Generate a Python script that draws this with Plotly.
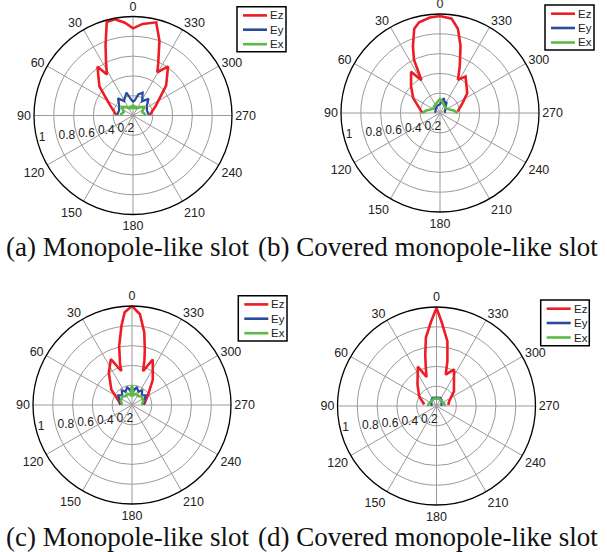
import plotly.graph_objects as go

# ---------------- data (theta in degrees, 0 = up, counter-clockwise) ----------------
# (a) Monopole-like slot
a_ez_theta = [-88, -67, -48, -35.5, -29.5, -26, -19.5, -14, -6, 0, 5, 10.7, 15.7, 21.4, 27, 32.5, 36, 49, 65, 88]
a_ez_r     = [0.17, 0.25, 0.45, 0.61, 0.50, 0.58, 0.80, 0.97, 0.93, 0.88, 0.94, 0.99, 0.98, 0.76, 0.60, 0.49, 0.61, 0.45, 0.26, 0.17]
a_ey_theta = [-88, -70, -55, -43, -33, -23, -14, -6, 0, 6, 16, 24, 32, 41, 55, 70, 88]
a_ey_r     = [0.16, 0.15, 0.17, 0.23, 0.17, 0.25, 0.22, 0.15, 0.14, 0.16, 0.24, 0.20, 0.17, 0.23, 0.17, 0.15, 0.16]
a_ex_theta = [-88, -70, -52, -40, -28, -18, -8, 0, 8, 18, 28, 40, 52, 70, 88]
a_ex_r     = [0.13, 0.10, 0.14, 0.11, 0.08, 0.10, 0.07, 0.11, 0.07, 0.10, 0.08, 0.11, 0.14, 0.10, 0.13]

# (b) Covered monopole-like slot
b_ez_theta = [-85, -66, -54, -35, -28.5, -23, -17, -12, -7, 0, 6, 13, 17, 22, 26, 29.5, 35, 47, 61, 81, 88]
b_ez_r     = [0.18, 0.25, 0.34, 0.45, 0.38, 0.51, 0.71, 0.87, 0.96, 0.98, 0.97, 0.94, 0.89, 0.73, 0.60, 0.38, 0.51, 0.40, 0.31, 0.20, 0.18]
b_ey_theta = [-88, -60, -45, -31, -25, -15, -8, 0, 15, 30, 45, 65, 88]
b_ey_r     = [0.05, 0.06, 0.08, 0.13, 0.11, 0.155, 0.12, 0.09, 0.08, 0.07, 0.06, 0.05, 0.05]
b_ex_theta = [-90, -80, -70, -55, -40, -25, -10, 0, 10, 25, 40, 55, 70, 80, 90]
b_ex_r     = [0.18, 0.14, 0.10, 0.08, 0.08, 0.09, 0.12, 0.14, 0.12, 0.10, 0.09, 0.08, 0.10, 0.14, 0.18]

# (c) Monopole-like slot
c_ez_theta = [-85, -58, -39.5, -24.5, -18, -15.5, -13, -9.6, -5, 0, 4.5, 7.5, 12.3, 16, 17.5, 24.8, 35.8, 53.4, 70, 85]
c_ez_r     = [0.125, 0.19, 0.33, 0.505, 0.36, 0.47, 0.575, 0.744, 0.92, 1.0, 0.94, 0.81, 0.61, 0.44, 0.36, 0.51, 0.40, 0.26, 0.15, 0.12]
c_ey_theta = [-90, -70, -55, -45, -35, -25, -15, -8, 0, 8, 15, 25, 35, 45, 55, 70, 90]
c_ey_r     = [0.12, 0.13, 0.17, 0.14, 0.18, 0.15, 0.19, 0.15, 0.18, 0.15, 0.19, 0.15, 0.18, 0.14, 0.17, 0.13, 0.12]
c_ex_theta = [-90, -70, -50, -35, -20, -8, -3, 0, 3, 8, 20, 35, 50, 70, 90]
c_ex_r     = [0.10, 0.12, 0.13, 0.11, 0.12, 0.10, 0.15, 0.20, 0.15, 0.10, 0.12, 0.11, 0.13, 0.12, 0.10]

# (d) Covered monopole-like slot
d_ez_theta = [-85, -71, -50, -25.6, -16.4, -13.7, -9.5, -3.5, 0, 3.8, 8.8, 12.4, 15, 19, 25.4, 41.5, 61, 83]
d_ez_r     = [0.12, 0.133, 0.23, 0.41, 0.33, 0.465, 0.665, 0.85, 0.99, 0.85, 0.70, 0.53, 0.42, 0.31, 0.44, 0.29, 0.20, 0.125]
d_ey_theta = [-90, -60, -40, -25, -10, 0, 10, 25, 40, 60, 90]
d_ey_r     = [0.05, 0.06, 0.08, 0.09, 0.085, 0.085, 0.085, 0.09, 0.08, 0.06, 0.05]
d_ex_theta = [-90, -70, -50, -30, -15, 0, 15, 30, 50, 70, 90]
d_ex_r     = [0.09, 0.08, 0.07, 0.075, 0.08, 0.07, 0.08, 0.075, 0.07, 0.08, 0.09]

series_names = ["Ez", "Ey", "Ex"]
angle_ticks = [0, 30, 60, 90, 120, 150, 180, 210, 240, 270, 300, 330]
angle_labels = [str(v) for v in angle_ticks]
radial_ticks = [0.2, 0.4, 0.6, 0.8, 1.0]
radial_labels = ["0.2", "0.4", "0.6", "0.8", "1"]
captions = ["(a) Monopole-like slot", "(b) Covered monopole-like slot",
            "(c) Monopole-like slot", "(d) Covered monopole-like slot"]

panels = [
    [(a_ez_theta, a_ez_r), (a_ey_theta, a_ey_r), (a_ex_theta, a_ex_r)],
    [(b_ez_theta, b_ez_r), (b_ey_theta, b_ey_r), (b_ex_theta, b_ex_r)],
    [(c_ez_theta, c_ez_r), (c_ey_theta, c_ey_r), (c_ex_theta, c_ex_r)],
    [(d_ez_theta, d_ez_r), (d_ey_theta, d_ey_r), (d_ex_theta, d_ex_r)],
]

# ---------------- styling / layout ----------------
W, H = 607, 552
colors = ["#ee1c25", "#2a4aa0", "#5dba47"]
widths = [2.6, 2.2, 2.6]
centers = [(133, 115.5), (440, 113), (132, 405), (436.5, 406)]   # pixel centres
R = 99
legend_boxes = [(237, 6.7, 286, 51.7), (545, 5, 594, 50), (238.3, 295.7, 287, 341), (540.7, 300, 589.3, 345.7)]
legend_offsets = [8.7, 23, 37.5]
caption_pos = [(4, 247), (256, 247), (4, 537), (256, 537)]
# radial labels sit just to the right of their ring crossing
label_pad = "\u00a0"
radial_text = [label_pad + t for t in radial_labels]

fig = go.Figure()
polar_ids = ["polar", "polar2", "polar3", "polar4"]

for i, panel in enumerate(panels):
    for j, (th, rr) in enumerate(panel):
        fig.add_trace(go.Scatterpolar(
            theta=th, r=rr, mode="lines", name=series_names[j],
            line=dict(color=colors[j], width=widths[j]),
            subplot=polar_ids[i], showlegend=False,
        ))

font_sans = "Liberation Sans, Arial, sans-serif"
layout = dict(width=W, height=H, margin=dict(l=0, r=0, t=0, b=0),
              paper_bgcolor="white", plot_bgcolor="white", annotations=[], shapes=[])
for i, (cx, cy) in enumerate(centers):
    layout[polar_ids[i]] = dict(
        domain=dict(x=[(cx - R) / W, (cx + R) / W], y=[1 - (cy + R) / H, 1 - (cy - R) / H]),
        bgcolor="white",
        angularaxis=dict(rotation=90, direction="counterclockwise",
                         tickmode="array", tickvals=angle_ticks, ticktext=angle_labels,
                         showline=True, linecolor="black", linewidth=1.3,
                         gridcolor="#9a9a9a", gridwidth=0.8, ticks="",
                         tickfont=dict(family=font_sans, size=12.5, color="#222")),
        radialaxis=dict(range=[0, 1], tickmode="array", tickvals=radial_ticks, ticktext=radial_text,
                        angle=186, tickangle=-174, side="counterclockwise", showline=False, ticks="",
                        gridcolor="#9a9a9a", gridwidth=0.8,
                        tickfont=dict(family=font_sans, size=12, color="#222")),
    )

# legend boxes (one per polar plot)
for i, (x0, y0, x1, y1) in enumerate(legend_boxes):
    layout["shapes"].append(dict(type="rect", xref="paper", yref="paper",
                                 x0=x0 / W, x1=x1 / W, y0=1 - y1 / H, y1=1 - y0 / H,
                                 line=dict(color="black", width=1.5), fillcolor="white", layer="above"))
    for j, name in enumerate(series_names):
        yy = y0 + legend_offsets[j]
        layout["shapes"].append(dict(type="line", xref="paper", yref="paper",
                                     x0=(x0 + 6) / W, x1=(x0 + 30) / W, y0=1 - yy / H, y1=1 - yy / H,
                                     line=dict(color=colors[j], width=2.6), layer="above"))
        layout["annotations"].append(dict(text=name, x=(x0 + 31) / W, y=1 - yy / H,
                                          xref="paper", yref="paper", xanchor="left", yanchor="middle",
                                          showarrow=False,
                                          font=dict(family=font_sans, size=11.5, color="#222")))

for i, txt in enumerate(captions):
    px, py = caption_pos[i]
    layout["annotations"].append(dict(
        text=txt, x=px / W, y=1 - py / H, xref="paper", yref="paper",
        xanchor="left", yanchor="middle", showarrow=False,
        font=dict(family="Liberation Serif, Times New Roman, serif", size=27, color="#111")))

fig.update_layout(**layout)
fig.write_html("out.html", config={"displayModeBar": False},
               post_script="document.body.style.margin='0';document.body.style.overflow='hidden';")
